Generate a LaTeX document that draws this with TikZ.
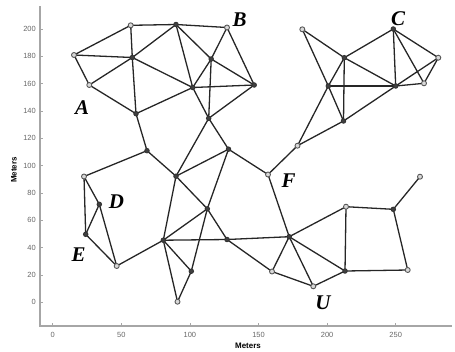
\documentclass[tikz,border=0pt]{standalone}
\usepackage{fontspec}
\setmainfont{Liberation Serif}
\setsansfont{Liberation Sans}
\pgfdeclarelayer{background}
\pgfsetlayers{background,main}
\begin{document}
\begin{tikzpicture}[x=1bp,y=-1bp,
  edge/.style={draw=black!85,line width=1.3bp},
  axisline/.style={draw=black!35,line width=1.1bp},
  opennode/.style={circle,draw=black!65,fill=black!15,line width=0.9bp,inner sep=0pt,minimum size=5bp},
  solidnode/.style={circle,draw=black!80,fill=black!75,line width=0.9bp,inner sep=0pt,minimum size=4.5bp},
  ticklab/.style={font=\sffamily\fontsize{7.5}{8}\selectfont,text=black!60,inner sep=0pt},
  axlab/.style={font=\sffamily\bfseries\fontsize{8}{8}\selectfont,inner sep=0pt},
  letter/.style={font=\bfseries\itshape\fontsize{21}{21}\selectfont,inner sep=0pt}]
\useasboundingbox (0,0) rectangle (455,351);
% axes
\coordinate (ytop) at (40,6);
\coordinate (orig) at (40,326);
\coordinate (xend) at (452,326);
\draw[axisline] (ytop) -- (orig) -- (xend);
\foreach \v in {0,20,...,200}{
  \draw[axisline,line width=0.8bp] (40,302.3-\v*1.367) -- (43,302.3-\v*1.367);
  \node[ticklab,anchor=east] at (36,302.3-\v*1.367) {\v};
}
\foreach \v in {0,50,...,250}{
  \draw[axisline,line width=0.8bp] (52.7+\v*1.372,326) -- (52.7+\v*1.372,323);
  \node[ticklab] at (52.7+\v*1.372,334.5) {\v};
}
\node[axlab] (xl) at (248,346) {Meters};
\node[axlab,rotate=90] (yl) at (14,170) {Meters};
% nodes
\node[opennode] (n1) at (74,55) {};
\node[opennode] (n2) at (130.7,25.3) {};
\node[solidnode] (n3) at (176,24.5) {};
\node[opennode] (nB) at (227,27.5) {};
\node[solidnode] (n5) at (132.3,57.5) {};
\node[opennode] (n6) at (89.3,85) {};
\node[solidnode] (n7) at (211.2,59) {};
\node[solidnode] (n8) at (192.7,87.5) {};
\node[solidnode] (n9) at (136,113.7) {};
\node[solidnode] (n10) at (208.7,118.3) {};
\node[solidnode] (n11) at (147,150.7) {};
\node[solidnode] (n12) at (228.5,149.2) {};
\node[solidnode] (n13) at (176,176.2) {};
\node[opennode] (n14) at (84,176.5) {};
\node[solidnode] (n15) at (254.2,85) {};
\node[opennode] (nF) at (268,174.5) {};
\node[opennode] (n16) at (297.5,145.7) {};
\node[solidnode] (n17) at (207.3,208.8) {};
\node[solidnode] (n18) at (163.3,240.2) {};
\node[solidnode] (n19) at (227,239.5) {};
\node[solidnode] (n20) at (289.2,236.7) {};
\node[solidnode] (n21) at (191.3,271.2) {};
\node[opennode] (n22) at (177.5,301.7) {};
\node[opennode] (n23) at (272,271.5) {};
\node[opennode] (nU) at (313.3,286.3) {};
\node[solidnode] (n24) at (343.5,121) {};
\node[solidnode] (n25) at (328.3,86) {};
\node[opennode] (n26) at (346,206.7) {};
\node[solidnode] (n27) at (345,271) {};
\node[solidnode] (n28) at (393.3,209.3) {};
\node[opennode] (n29) at (420,176.7) {};
\node[opennode] (n30) at (407.7,270) {};
\node[opennode] (n31) at (302.3,29.3) {};
\node[solidnode] (n32) at (344.3,57.7) {};
\node[solidnode] (nC) at (393.3,29) {};
\node[solidnode] (n33) at (395.7,86) {};
\node[opennode] (n34) at (424,83.3) {};
\node[opennode] (n35) at (438.3,57.7) {};
\node[solidnode] (nD) at (99.3,204.3) {};
\node[solidnode] (nE) at (85.7,234.3) {};
\node[opennode] (n37) at (116.7,266) {};
% edges
\begin{pgfonlayer}{background}
\foreach \a/\b in {n1/n2,n1/n5,n1/n6,n6/n5,n6/n9,n2/n3,n3/nB,n2/n5,n5/n3,n5/n9,n5/n8,n9/n8,n3/n8,n3/n7,n7/nB,nB/n15,n7/n15,n8/n15,n7/n8,n7/n10,n10/n15,n8/n10,n10/n13,n10/n12,n9/n11,n11/n14,n11/n13,n13/n12,n12/nF,nF/n16,n16/n25,n16/n24,n13/n18,n13/n17,n12/n17,n17/n21,n17/n18,n17/n19,n18/n19,n19/n20,n18/n21,n18/n22,n21/n22,n19/n23,nF/n20,n20/n23,n20/nU,n23/nU,n20/n27,n20/n26,nU/n27,n26/n27,n26/n28,n28/n29,n28/n30,n27/n30,n31/n25,n25/n24,n31/n32,n32/nC,n32/n24,n32/n33,n25/n32,n25/n33,n24/n33,nC/n33,nC/n34,nC/n35,n33/n34,n33/n35,n34/n35,n14/nE,n14/nD,nD/nE,nD/n37,nE/n37,n37/n18}
  \draw[edge] (\a.center) -- (\b.center);
\end{pgfonlayer}
% letters
\node[letter] (lA) at (82,107.5) {A};
\node[letter] (lB) at (239.5,19.5) {B};
\node[letter] (lC) at (398,18.5) {C};
\node[letter] (lD) at (116.5,202) {D};
\node[letter] (lE) at (78.5,255) {E};
\node[letter] (lF) at (288.5,181) {F};
\node[letter] (lU) at (323,303) {U};
\end{tikzpicture}
\end{document}
